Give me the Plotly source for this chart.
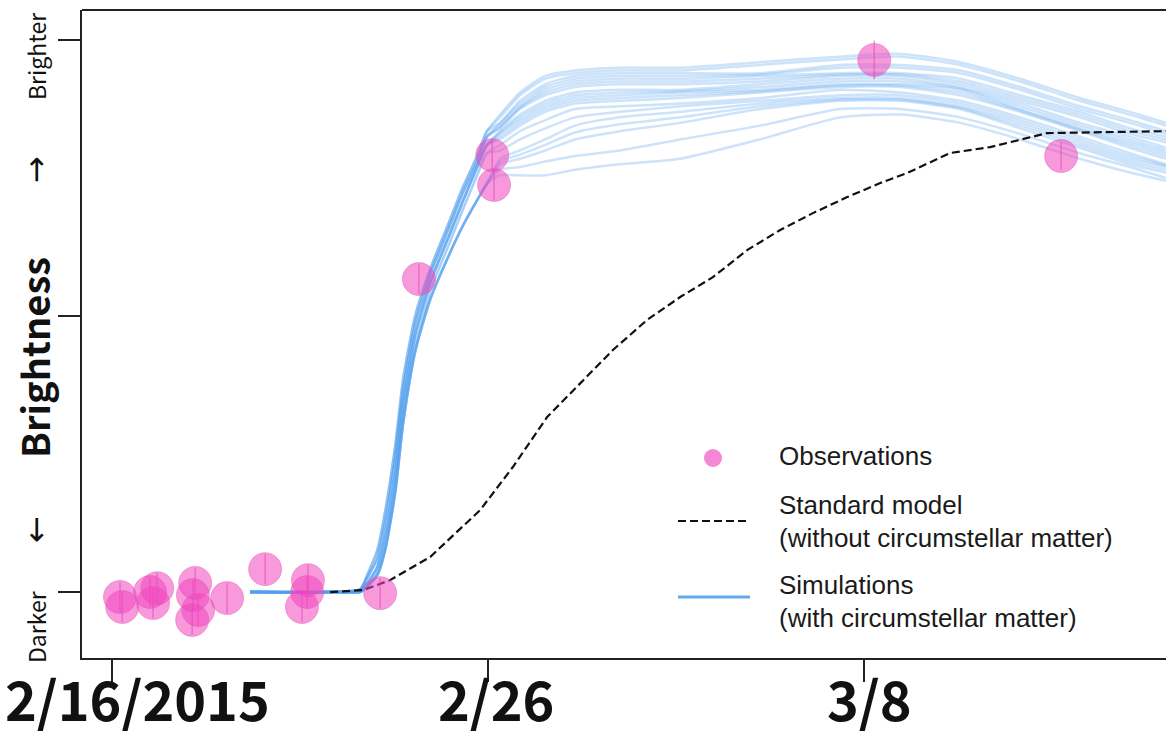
import plotly.graph_objects as go

# ---------------- data (x: days since 2015-02-16, y: relative brightness 0=darker ... 2=brighter)
tick_days = [0, 10, 20]
tick_labels = ["2/16/2015", "2/26", "3/8"]
tick_label_shift = [25, 8, 5]

obs_day = [0.21, 0.27, 1.01, 1.20, 1.09, 2.21, 2.15, 2.29, 2.13, 3.06, 4.07, 5.21, 5.19, 5.05,
           7.13, 8.16, 10.11, 10.16, 20.27, 25.24]
obs_val = [-0.018, -0.054, 0.000, 0.014, -0.040, 0.033, -0.011, -0.065, -0.101, -0.022, 0.083,
           0.043, 0.000, -0.054, -0.004, 1.134, 1.583, 1.475, 1.928, 1.580]
obs_err = [0.055] * 18 + [0.07, 0.05]

std_day = [5.80, 6.68, 7.39, 8.46, 9.79, 10.66, 11.57, 12.45, 13.32, 14.23, 15.11, 15.98, 16.89,
           17.77, 18.64, 19.55, 20.43, 21.14, 22.29, 23.35, 24.87, 28.03]
std_val = [0.000, 0.007, 0.043, 0.127, 0.297, 0.453, 0.634, 0.757, 0.877, 0.986, 1.069, 1.141,
           1.239, 1.312, 1.373, 1.431, 1.482, 1.518, 1.591, 1.612, 1.663, 1.670]

sim_day = [3.67, 5.80, 6.60, 6.78, 7.05, 7.26, 7.53, 7.74, 8.06, 8.46, 8.99, 9.34, 9.71, 9.97,
           10.32, 10.85, 11.52, 12.31, 13.51, 15.11, 17.23, 19.36, 20.96, 22.55, 24.15, 25.74,
           27.07, 28.03]

# rise part (first 14 points) of the simulations
rise_a = [0, 0, 0.010, 0.06, 0.15, 0.29, 0.53, 0.77, 1.00, 1.17, 1.35, 1.47, 1.58, 1.67]
rise_b = [0, 0, 0.010, 0.05, 0.12, 0.25, 0.49, 0.73, 0.97, 1.15, 1.33, 1.45, 1.56, 1.65]
rise_c = [0, 0, 0.005, 0.03, 0.09, 0.20, 0.43, 0.68, 0.93, 1.12, 1.30, 1.42, 1.54, 1.62]
rise_d = [0, 0, 0.000, 0.02, 0.07, 0.16, 0.38, 0.63, 0.89, 1.09, 1.27, 1.39, 1.51, 1.59]
rise_low = [0, 0, 0.000, 0.02, 0.06, 0.15, 0.36, 0.61, 0.87, 1.06, 1.23, 1.33, 1.42, 1.48]

# plateau / decline part (last 14 points) of the simulations
tail_top = [1.73, 1.81, 1.87, 1.89, 1.90, 1.90, 1.92, 1.94, 1.95, 1.92, 1.86, 1.79, 1.74, 1.70]
tail_u1 = [1.72, 1.80, 1.86, 1.88, 1.89, 1.89, 1.91, 1.93, 1.94, 1.91, 1.85, 1.78, 1.73, 1.69]
tail_u2 = [1.70, 1.78, 1.84, 1.87, 1.88, 1.88, 1.88, 1.91, 1.91, 1.89, 1.83, 1.76, 1.71, 1.67]
tail_u3 = [1.70, 1.77, 1.83, 1.86, 1.87, 1.87, 1.875, 1.90, 1.90, 1.88, 1.82, 1.75, 1.70, 1.66]
tail_c1 = [1.69, 1.76, 1.82, 1.85, 1.86, 1.86, 1.87, 1.88, 1.88, 1.86, 1.80, 1.74, 1.68, 1.65]
tail_c1b = [1.685, 1.755, 1.81, 1.84, 1.85, 1.85, 1.86, 1.875, 1.875, 1.85, 1.79, 1.73, 1.67, 1.64]
tail_c2 = [1.68, 1.75, 1.80, 1.83, 1.84, 1.84, 1.85, 1.87, 1.87, 1.84, 1.78, 1.72, 1.66, 1.63]
tail_c3 = [1.67, 1.73, 1.78, 1.81, 1.82, 1.82, 1.84, 1.86, 1.86, 1.83, 1.77, 1.70, 1.65, 1.61]
tail_c3b = [1.665, 1.72, 1.77, 1.80, 1.81, 1.815, 1.83, 1.85, 1.85, 1.825, 1.76, 1.69, 1.64, 1.60]
tail_c4 = [1.66, 1.71, 1.76, 1.79, 1.80, 1.81, 1.82, 1.84, 1.84, 1.82, 1.75, 1.68, 1.63, 1.59]
tail_c4b = [1.65, 1.70, 1.75, 1.78, 1.79, 1.80, 1.815, 1.835, 1.835, 1.81, 1.745, 1.675, 1.62, 1.58]
tail_c5 = [1.64, 1.69, 1.74, 1.77, 1.78, 1.79, 1.81, 1.83, 1.83, 1.80, 1.74, 1.67, 1.61, 1.57]
tail_c6 = [1.62, 1.67, 1.71, 1.75, 1.76, 1.77, 1.79, 1.82, 1.81, 1.78, 1.72, 1.65, 1.59, 1.55]
tail_m1 = [1.60, 1.64, 1.68, 1.72, 1.74, 1.76, 1.78, 1.80, 1.80, 1.77, 1.71, 1.64, 1.58, 1.545]
tail_l1 = [1.57, 1.60, 1.64, 1.69, 1.72, 1.74, 1.77, 1.79, 1.79, 1.76, 1.70, 1.63, 1.57, 1.54]
tail_m2 = [1.56, 1.585, 1.62, 1.665, 1.695, 1.72, 1.76, 1.785, 1.785, 1.755, 1.69, 1.62, 1.56, 1.53]
tail_l2 = [1.55, 1.57, 1.60, 1.64, 1.67, 1.70, 1.75, 1.78, 1.78, 1.75, 1.68, 1.61, 1.55, 1.52]
tail_l3 = [1.53, 1.54, 1.56, 1.58, 1.60, 1.64, 1.69, 1.75, 1.75, 1.72, 1.66, 1.59, 1.54, 1.50]
tail_l4 = [1.51, 1.51, 1.51, 1.53, 1.55, 1.57, 1.64, 1.72, 1.73, 1.70, 1.64, 1.57, 1.52, 1.49]

sim_curves = [
    rise_a + tail_top, rise_a + tail_u1, rise_a + tail_u2, rise_b + tail_u3,
    rise_b + tail_c1, rise_b + tail_c1b, rise_b + tail_c2, rise_c + tail_c3,
    rise_c + tail_c3b, rise_c + tail_c4, rise_c + tail_c4b, rise_c + tail_c5,
    rise_d + tail_c6, rise_d + tail_m1, rise_low + tail_l1, rise_low + tail_m2,
    rise_low + tail_l2, rise_low + tail_l3, rise_low + tail_l4,
]

# ---------------- figure
fig = go.Figure()

for curve in sim_curves:
    fig.add_trace(go.Scatter(x=sim_day, y=curve, mode="lines",
                             line=dict(color="rgba(78,158,238,0.29)", width=2.5,
                                       shape="spline", smoothing=0.6),
                             hoverinfo="skip"))

fig.add_trace(go.Scatter(x=std_day, y=std_val, mode="lines",
                         line=dict(color="#111111", width=2.2, dash="8px,4px")))

fig.add_trace(go.Scatter(
    x=obs_day, y=obs_val, mode="markers",
    marker=dict(size=33, color="rgba(240,70,190,0.55)",
                line=dict(color="rgba(225,90,180,0.45)", width=1)),
    error_y=dict(type="data", array=obs_err, visible=True, color="rgba(210,60,160,0.5)",
                 thickness=1.5, width=0),
))

axis_common = dict(showgrid=False, zeroline=False, showline=True, linecolor="#222222",
                   linewidth=2, ticks="outside", ticklen=22, tickwidth=1.5,
                   tickcolor="#222222", showticklabels=False)

fig.update_xaxes(range=[-0.8, 28.03], tickvals=tick_days, **axis_common)
fig.update_yaxes(range=[-0.239, 2.109], tickvals=[0, 1, 2], **axis_common)

W, H = 1166, 743
L, R, T, B = 82, 0, 10, 85
PW, PH = W - L - R, H - T - B


def px(xp):
    return (xp - L) / PW


def py(yp):
    return (H - B - yp) / PH


shapes = [
    dict(type="line", xref="paper", yref="paper", x0=0, x1=1, y0=1, y1=1,
         line=dict(color="#222222", width=2)),
    # legend samples
    dict(type="circle", xref="paper", yref="paper", xsizemode="pixel", ysizemode="pixel",
         xanchor=px(713), yanchor=py(458), x0=-9, x1=9, y0=-9, y1=9,
         fillcolor="rgb(245,135,215)", line=dict(width=0)),
    dict(type="line", xref="paper", yref="paper", x0=px(678), x1=px(750), y0=py(521),
         y1=py(521), line=dict(color="#111111", width=2.2, dash="8px,4px")),
    dict(type="line", xref="paper", yref="paper", x0=px(678), x1=px(750), y0=py(597),
         y1=py(597), line=dict(color="rgb(100,170,235)", width=3)),
]

legend_font = dict(family="Liberation Sans, Arial, sans-serif", size=26, color="#1a1a1a")
annotations = []
for text, yp in [("Observations", 456), ("Standard model", 505),
                 ("(without circumstellar matter)", 538), ("Simulations", 585),
                 ("(with circumstellar matter)", 618)]:
    annotations.append(dict(text=text, xref="paper", yref="paper", x=px(777), y=py(yp),
                            xanchor="left", yanchor="middle", showarrow=False,
                            font=legend_font))

# x tick labels
for d, lab, sh in zip(tick_days, tick_labels, tick_label_shift):
    annotations.append(dict(text=lab, xref="x", yref="paper", x=d, y=py(697), xshift=sh,
                            xanchor="center", yanchor="middle", showarrow=False,
                            font=dict(family="Noto Sans CJK JP", size=54, color="#111111",
                                      weight="bold")))

# y axis label pieces
ylab_font = dict(family="Noto Sans CJK JP", size=23, color="#111111")
arrow_font = dict(family="DejaVu Sans", size=32, color="#111111")
annotations += [
    dict(text="Brighter", xref="paper", yref="paper", x=px(36), y=py(57), textangle=-90,
         xanchor="center", yanchor="middle", showarrow=False, font=ylab_font),
    dict(text="→", xref="paper", yref="paper", x=px(36), y=py(170), textangle=-90,
         xanchor="center", yanchor="middle", showarrow=False, font=arrow_font),
    dict(text="Brightness", xref="paper", yref="paper", x=px(34), y=py(358), textangle=-90,
         xanchor="center", yanchor="middle", showarrow=False,
         font=dict(family="Noto Sans CJK JP", size=38, color="#111111", weight="bold")),
    dict(text="←", xref="paper", yref="paper", x=px(36), y=py(530), textangle=-90,
         xanchor="center", yanchor="middle", showarrow=False, font=arrow_font),
    dict(text="Darker", xref="paper", yref="paper", x=px(36), y=py(627), textangle=-90,
         xanchor="center", yanchor="middle", showarrow=False, font=ylab_font),
]

fig.update_layout(width=W, height=H, margin=dict(l=L, r=R, t=T, b=B),
                  plot_bgcolor="white", paper_bgcolor="white", showlegend=False,
                  shapes=shapes, annotations=annotations)

fig.write_html("out.html", config={"displayModeBar": False},
               post_script="document.body.style.margin='0';"
                           "document.body.style.overflow='hidden';")
